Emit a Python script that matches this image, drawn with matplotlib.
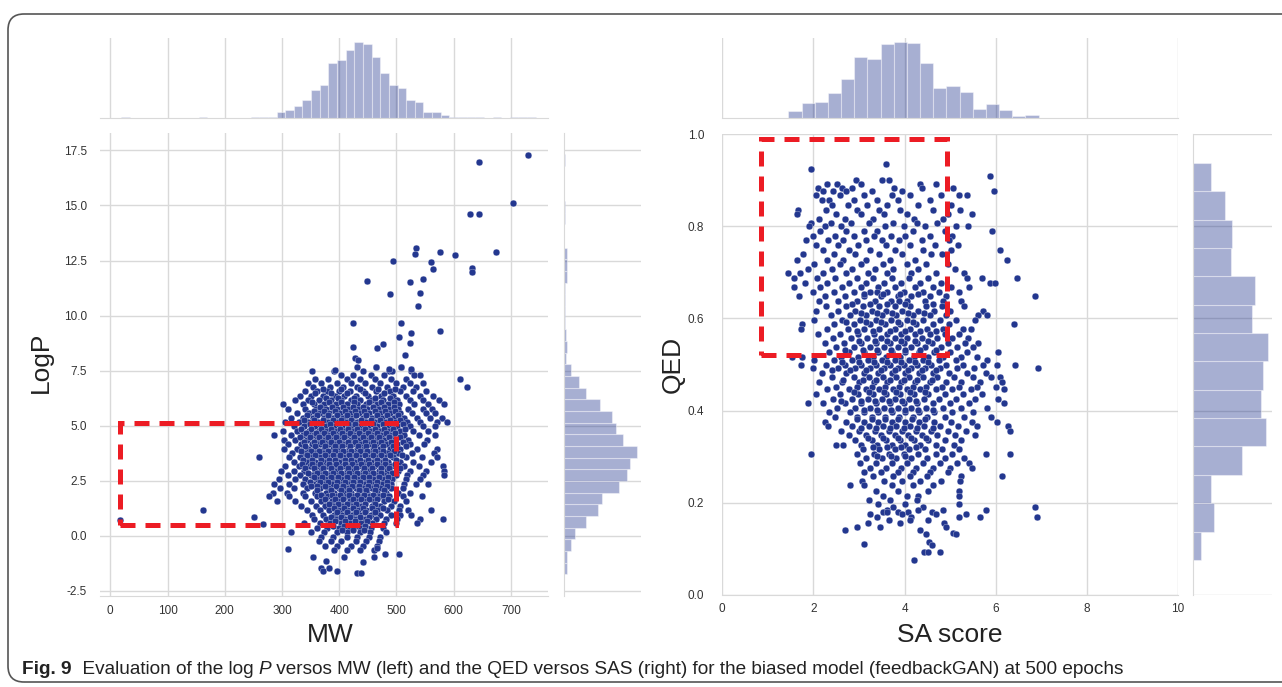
import numpy as np
import matplotlib
matplotlib.use("Agg")
import matplotlib.pyplot as plt
from matplotlib.patches import Rectangle, FancyBboxPatch

plt.rcParams['font.family'] = ['Liberation Sans', 'DejaVu Sans']
plt.rcParams['axes.unicode_minus'] = False

DOT = '#23378f'
GRID = '#d9d9d9'
RED = '#ec1c24'
TXT = '#333333'

# ---------------- left panel: LogP vs MW ----------------
# rows of points: (LogP, [MW, ...])
left_top_rows = [
    (7.68, [432, 465, 508]),
    (7.50, [352, 391, 441, 487, 526, 493]),
    (7.32, [403, 424, 456, 479, 531, 541]),
    (7.12, [358, 381, 413, 437, 462, 491, 516, 612]),
    (6.93, [346, 369, 396, 421, 446, 471, 499, 524, 546]),
    (6.76, [355, 384, 406, 431, 457, 483, 511, 535, 623]),
    (6.56, [341, 361, 379, 399, 419, 441, 464, 489, 506, 529, 551]),
    (6.36, [331, 351, 371, 393, 409, 429, 451, 473, 494, 517, 541, 564]),
    (6.16, [322, 346, 364, 386, 403, 421, 437, 457, 477, 501, 523, 547, 575]),
    (5.96, [301, 336, 356, 374, 394, 413, 431, 447, 467, 485, 504, 531, 556, 584]),
    (5.76, [311, 341, 359, 377, 397, 415, 433, 449, 469, 487, 503, 521, 546, 562]),
    (5.56, [326, 347, 367, 383, 401, 419, 435, 453, 471, 489, 507, 527, 551, 568]),
    (5.36, [316, 336, 354, 373, 389, 406, 423, 441, 457, 475, 495, 514, 536, 559, 579]),
    (5.16, [306, 329, 346, 363, 381, 397, 413, 431, 447, 463, 481, 497, 519, 541, 571, 589]),
]
left_core_rows = [
    (4.96, [321, 339, 357, 375, 391, 405, 421, 437, 451, 467, 485, 501, 523, 547, 567]),
    (4.76, [301, 326, 347, 365, 379, 396, 411, 426, 439, 456, 471, 487, 506, 529, 556]),
    (4.56, [287, 316, 337, 356, 371, 384, 401, 414, 429, 446, 461, 475, 493, 513, 539, 568]),
    (4.36, [303, 323, 344, 361, 376, 389, 404, 421, 434, 451, 466, 479, 497, 521, 554]),
    (4.16, [311, 334, 353, 367, 383, 395, 411, 423, 439, 453, 465, 483, 501, 524, 549]),
    (3.96, [304, 327, 346, 359, 373, 389, 401, 417, 431, 443, 459, 471, 489, 507, 536, 571]),
    (3.76, [317, 339, 354, 371, 385, 397, 413, 425, 441, 453, 469, 483, 503, 527, 566]),
    (3.56, [260, 313, 331, 349, 367, 379, 395, 407, 423, 435, 451, 463, 479, 494, 516, 544, 571]),
    (3.36, [321, 343, 357, 373, 387, 399, 415, 427, 443, 455, 471, 485, 506, 529, 561]),
    (3.16, [306, 329, 349, 363, 379, 391, 407, 419, 433, 449, 461, 477, 491, 513, 539, 581]),
    (2.96, [299, 321, 339, 357, 369, 385, 397, 413, 425, 441, 453, 469, 483, 503, 524, 551, 584]),
    (2.76, [311, 331, 351, 365, 381, 393, 409, 421, 437, 449, 465, 479, 499, 519, 546, 583]),
    (2.56, [294, 323, 341, 361, 375, 391, 403, 419, 431, 447, 459, 477, 493, 516, 541]),
    (2.36, [287, 313, 336, 354, 373, 387, 401, 417, 429, 445, 457, 475, 491, 513, 535, 556]),
    (2.16, [297, 321, 344, 366, 381, 399, 413, 429, 441, 457, 471, 491, 511]),
    (1.96, [284, 309, 336, 357, 377, 391, 409, 421, 437, 449, 467, 481, 503, 524]),
    (1.78, [278, 313, 341, 361, 381, 395, 413, 425, 441, 454, 471, 487, 511, 545]),
    (1.56, [292, 323, 351, 369, 387, 401, 419, 431, 447, 461, 479, 495, 516]),
]
left_low_rows = [
    (1.36, [334, 359, 375, 393, 407, 425, 439, 457, 471, 491, 507]),
    (1.16, [344, 367, 383, 401, 415, 433, 447, 467, 483, 504, 521, 561]),
    (0.96, [353, 371, 391, 405, 423, 437, 456, 471, 491, 507, 526]),
    (0.76, [356, 377, 397, 411, 429, 445, 465, 481, 501, 541, 582]),
    (0.56, [339, 366, 384, 403, 419, 439, 457, 479, 499, 536]),
    (0.36, [361, 379, 399, 417, 437, 455, 477]),
    (0.16, [316, 351, 374, 396, 414, 436, 454, 481]),
    (-0.04, [369, 389, 413, 431, 453, 471]),
    (-0.24, [364, 386, 404, 429, 447, 469]),
    (-0.46, [376, 397, 421, 441, 466]),
    (-0.66, [391, 414, 437, 461]),
]
# the crowded middle of the cloud, between the rows above
left_dense_rows = [
    (6.66, [372, 403, 436, 468, 497]),
    (6.46, [357, 386, 414, 446, 479]),
    (6.26, [377, 398, 426, 462, 488]),
    (6.06, [352, 383, 404, 426, 452, 474, 495]),
    (5.86, [366, 388, 406, 424, 441, 459, 478, 496]),
    (5.66, [356, 374, 392, 410, 427, 444, 462, 480, 498]),
    (5.46, [343, 362, 380, 397, 414, 430, 447, 466, 483, 503]),
    (5.26, [338, 356, 372, 389, 404, 421, 439, 456, 472, 489, 507]),
    (5.06, [349, 366, 384, 399, 416, 427, 443, 459, 476, 492, 512]),
    (4.86, [333, 351, 369, 386, 402, 416, 431, 445, 462, 478, 494, 515]),
    (4.66, [342, 360, 374, 390, 405, 419, 434, 451, 466, 482, 498]),
    (4.46, [331, 349, 365, 380, 394, 408, 426, 441, 456, 470, 487, 506]),
    (4.26, [339, 356, 370, 385, 399, 415, 428, 445, 459, 474, 491, 512]),
    (4.06, [340, 357, 376, 392, 405, 419, 433, 447, 461, 477, 494, 516]),
    (3.86, [333, 351, 365, 380, 393, 407, 421, 436, 449, 463, 477, 496]),
    (3.66, [343, 358, 375, 389, 402, 418, 430, 446, 459, 474, 488, 509]),
    (3.46, [337, 353, 369, 383, 393, 410, 421, 437, 450, 466, 480, 499]),
    (3.26, [335, 352, 367, 382, 395, 411, 423, 438, 452, 466, 480, 498]),
    (3.06, [340, 356, 371, 386, 402, 416, 429, 444, 457, 473, 487, 506]),
    (2.86, [346, 362, 376, 390, 404, 417, 432, 446, 460, 474, 492]),
    (2.66, [356, 370, 386, 398, 413, 426, 441, 453, 470, 486]),
    (2.46, [349, 366, 381, 396, 410, 424, 437, 452, 466, 484]),
    (2.26, [350, 361, 376, 394, 407, 423, 435, 450, 464, 483]),
    (2.06, [362, 385, 403, 418, 434, 447, 463, 478]),
    (1.86, [369, 387, 402, 417, 431, 444, 459, 476]),
    (1.66, [375, 392, 407, 424, 438, 452, 467, 485]),
    (1.46, [383, 398, 414, 430, 446, 463]),
    (1.26, [391, 409, 424, 441, 458, 476]),
    (1.06, [397, 414, 430, 446, 463]),
    (0.86, [385, 404, 419, 436, 452]),
    (0.66, [393, 411, 428, 448]),
    (0.46, [390, 408, 427, 446]),
    (0.26, [405, 425, 444]),
]
# isolated points
mw_out = [730, 645, 703, 628, 645, 534, 532, 576, 603, 674, 494, 560, 564, 633, 633,
          449, 523, 547, 542, 489, 538, 425, 508, 576, 525, 504, 477, 523, 425, 467,
          515, 428, 433, 465, 508, 487, 525, 392,
          17, 162, 252, 267, 311, 355, 368, 371, 382, 396, 377, 409, 432, 438, 441,
          461, 480, 504, 467]
logp_out = [17.30, 16.97, 15.11, 14.61, 14.61, 13.08, 12.80, 12.88, 12.74, 12.88, 12.50,
            12.43, 12.11, 12.18, 11.97, 11.59, 11.53, 11.67, 11.02, 10.96, 10.44, 9.67,
            9.67, 9.29, 9.23, 9.03, 8.71, 8.77, 8.58, 8.52, 8.20, 8.08, 7.96, 7.68, 7.68,
            7.56, 7.56, 7.53,
            0.71, 1.17, 0.86, 0.53, -0.60, -0.95, -1.48, -1.59, -1.47, -1.59, -1.13,
            -0.95, -1.71, -1.71, -1.21, -0.95, -0.83, -0.83, -0.54]

mw_bin0, mw_binw = 18.8, 15.1
mw_counts = [1, 0, 0, 0, 0, 0, 0, 0, 0, 1, 0, 0, 0, 0, 0, 1, 1, 1, 9, 12,
             18, 26, 41, 49, 81, 85, 100, 113, 109, 90, 66, 49, 45, 27, 24, 9, 9, 5, 1, 1,
             2, 1, 0, 1, 0, 1, 1, 1]
logp_bin0, logp_binw = -1.75, 0.53
logp_counts = [5, 5, 11, 16, 32, 51, 57, 82, 94, 98, 109, 88, 78, 72, 53, 33, 23, 10,
               3, 4, 3, 2, 1, 1, 1, 4, 4, 5, 0, 0, 2, 1, 0, 0, 0, 2]

mw_ticks = [0, 100, 200, 300, 400, 500, 600, 700]
logp_ticks = [-2.5, 0.0, 2.5, 5.0, 7.5, 10.0, 12.5, 15.0, 17.5]

# ---------------- right panel: QED vs SA score ----------------
right_top_rows = [
    (0.935, [3.59]),
    (0.924, [1.95]),
    (0.909, [5.88]),
    (0.900, [2.94, 3.50, 3.66]),
    (0.891, [2.30, 2.52, 3.05, 4.35, 4.68]),
    (0.883, [2.10, 2.62, 2.85, 3.77, 4.38, 5.07]),
    (0.876, [2.21, 2.44, 2.72, 3.28, 3.95, 5.97]),
    (0.868, [2.05, 2.58, 3.12, 3.72, 4.12, 4.79, 5.20, 5.36]),
    (0.857, [2.18, 2.35, 2.90, 3.40, 3.85, 4.55]),
    (0.846, [2.40, 2.76, 3.18, 3.62, 4.30, 5.02]),
    (0.836, [1.66, 2.28, 2.95, 3.45, 3.90, 4.62, 5.22]),
    (0.826, [1.63, 2.50, 3.05, 3.55, 4.05, 4.95, 5.47]),
    (0.816, [2.12, 2.70, 3.30, 4.20, 4.85]),
    (0.808, [1.95, 2.38, 2.82, 3.22, 3.75, 4.28, 4.72]),
    (0.800, [1.90, 2.25, 2.60, 3.58, 3.98, 4.45, 5.12, 5.40]),
    (0.790, [2.15, 2.72, 3.10, 3.40, 4.18, 4.88, 5.91]),
    (0.780, [1.98, 2.48, 2.90, 3.32, 3.70, 4.02, 4.55, 5.05]),
    (0.770, [1.83, 2.32, 2.66, 3.15, 3.50, 3.88, 4.38, 4.98]),
    (0.760, [2.05, 2.55, 2.98, 3.60, 4.12, 4.66, 5.18]),
    (0.748, [2.20, 2.78, 3.25, 3.80, 4.40, 5.02, 6.10]),
    (0.739, [1.78, 2.45, 2.92, 3.45, 3.95, 4.58, 4.82]),
    (0.728, [1.63, 2.30, 2.65, 3.15, 3.68, 4.22, 6.24]),
    (0.718, [2.02, 2.58, 3.05, 3.52, 4.05, 4.48, 4.95]),
    (0.708, [1.88, 2.40, 2.85, 3.35, 3.75, 4.30, 5.10]),
    (0.698, [1.45, 1.70, 2.22, 2.72, 3.20, 3.62, 4.15, 4.70, 5.30]),
]
right_mid_rows = [
    (0.688, [1.58, 2.08, 2.48, 2.95, 3.30, 3.72, 4.10, 4.52, 5.36, 5.69, 6.46]),
    (0.678, [1.82, 2.30, 2.78, 3.15, 3.55, 3.92, 4.35, 4.80, 5.88, 5.99]),
    (0.668, [1.57, 2.15, 2.62, 3.05, 3.42, 3.80, 4.22, 4.62, 5.02, 5.41]),
    (0.658, [2.00, 2.45, 2.88, 3.25, 3.40, 3.62, 3.98, 4.40, 4.75, 5.20]),
    (0.648, [1.69, 2.25, 2.70, 3.10, 3.48, 3.85, 4.15, 4.55, 4.92, 6.86]),
    (0.638, [2.12, 2.55, 2.95, 3.35, 3.70, 3.88, 4.05, 4.45, 4.85, 5.25]),
    (0.627, [2.28, 2.72, 3.08, 3.45, 3.78, 4.12, 4.48, 4.82, 5.30]),
    (0.617, [2.05, 2.55, 2.92, 3.28, 3.60, 3.95, 4.30, 4.65, 5.00, 5.72]),
    (0.607, [2.38, 2.80, 3.15, 3.50, 3.82, 4.18, 4.55, 4.92, 5.62, 5.82]),
    (0.597, [2.01, 2.62, 3.02, 3.38, 3.70, 4.05, 4.40, 4.78, 5.12, 5.55]),
    (0.587, [1.75, 2.45, 2.88, 3.25, 3.58, 3.90, 4.25, 4.62, 4.98, 6.40]),
    (0.577, [1.72, 2.30, 2.75, 3.12, 3.45, 3.78, 4.12, 4.50, 4.85, 5.28, 5.45]),
    (0.567, [2.10, 2.58, 2.98, 3.32, 3.62, 3.92, 4.22, 4.55, 4.88, 5.20]),
    (0.557, [2.42, 2.82, 3.18, 3.48, 3.78, 4.05, 4.38, 4.72, 5.05, 5.40]),
    (0.547, [2.25, 2.68, 3.05, 3.38, 3.68, 3.98, 4.28, 4.60, 4.95, 5.32, 5.62]),
    (0.537, [2.50, 2.90, 3.25, 3.55, 3.85, 4.15, 4.45, 4.80, 5.15, 5.50]),
    (0.527, [2.35, 2.78, 3.12, 3.42, 3.72, 4.02, 4.32, 4.65, 5.00, 5.38, 6.06]),
    (0.517, [1.54, 1.76, 2.60, 2.98, 3.30, 3.60, 3.90, 4.20, 4.52, 4.85, 5.25, 5.58]),
    (0.510, [2.02, 2.45, 2.85, 3.20, 3.50, 3.80, 4.10, 4.40, 4.75, 5.12, 5.82]),
    (0.500, [1.72, 2.28, 2.70, 3.05, 3.38, 3.68, 3.98, 4.28, 4.58, 4.92, 5.28, 5.72, 6.02, 6.42]),
    (0.492, [1.98, 2.55, 2.92, 3.25, 3.55, 3.85, 4.15, 4.45, 4.78, 5.15, 5.52, 6.92]),
    (0.482, [2.18, 2.72, 3.10, 3.42, 3.72, 4.02, 4.32, 4.62, 4.98, 5.38, 5.78]),
    (0.472, [2.40, 2.88, 3.22, 3.52, 3.82, 4.10, 4.40, 4.72, 5.08, 5.50, 5.90, 6.09]),
    (0.462, [2.12, 2.62, 3.00, 3.32, 3.62, 3.92, 4.22, 4.55, 4.90, 5.25, 5.65, 6.15]),
    (0.452, [2.50, 2.95, 3.28, 3.58, 3.88, 4.18, 4.48, 4.82, 5.20, 5.60, 6.00]),
]
right_low_rows = [
    (0.446, [2.30, 2.78, 3.15, 3.45, 3.75, 4.05, 4.35, 4.68, 5.05, 5.45, 6.19]),
    (0.436, [2.05, 2.58, 2.98, 3.30, 3.60, 3.90, 4.20, 4.52, 4.88, 5.28, 5.70]),
    (0.426, [2.42, 2.85, 3.20, 3.50, 3.80, 4.10, 4.42, 4.75, 5.12, 5.55, 6.05]),
    (0.416, [1.89, 2.22, 2.70, 3.05, 3.38, 3.68, 3.98, 4.28, 4.62, 5.00, 5.42, 6.18]),
    (0.406, [2.52, 2.92, 3.25, 3.55, 3.85, 4.15, 4.48, 4.85, 5.25, 5.80]),
    (0.396, [2.35, 2.80, 3.12, 3.42, 3.72, 4.02, 4.32, 4.65, 5.05, 5.50]),
    (0.386, [2.48, 2.95, 3.28, 3.58, 3.88, 4.18, 4.50, 4.88, 5.30, 5.90]),
    (0.376, [2.25, 2.72, 3.10, 3.42, 3.72, 4.02, 4.32, 4.65, 5.02, 5.48, 6.02]),
    (0.366, [2.32, 2.85, 3.22, 3.52, 3.82, 4.12, 4.42, 4.78, 5.18, 5.60, 6.28]),
    (0.356, [2.60, 3.00, 3.35, 3.65, 3.95, 4.25, 4.58, 4.95, 5.35, 6.31]),
    (0.346, [2.78, 3.15, 3.48, 3.78, 4.08, 4.38, 4.72, 5.10, 5.55]),
    (0.336, [2.92, 3.28, 3.60, 3.90, 4.20, 4.52, 4.88, 5.25]),
    (0.326, [2.50, 2.65, 3.05, 3.40, 3.72, 4.02, 4.35, 4.70, 5.08]),
    (0.316, [3.08, 3.45, 3.78, 4.10, 4.45, 4.82, 5.20]),
    (0.306, [1.94, 2.95, 3.32, 3.65, 3.98, 4.30, 4.68, 5.05, 5.78, 6.31]),
    (0.296, [3.15, 3.50, 3.82, 4.15, 4.50, 4.88, 5.30]),
    (0.286, [3.02, 3.38, 3.72, 4.05, 4.40, 4.78, 5.15, 5.42]),
    (0.276, [3.25, 3.60, 3.92, 4.25, 4.62, 5.00, 5.48]),
    (0.266, [3.12, 3.48, 3.85, 4.18, 4.55, 4.95]),
    (0.258, [3.30, 3.75, 4.12, 4.50, 5.25, 6.13]),
    (0.248, [3.06, 3.55, 3.95, 4.35, 4.80, 5.22]),
    (0.238, [2.80, 3.12, 3.72, 4.18, 4.62]),
    (0.226, [3.38, 3.85, 4.51, 5.20]),
    (0.214, [3.52, 4.05, 4.30, 5.20]),
    (0.205, [3.23, 3.68, 4.28]),
    (0.197, [3.42, 4.00, 5.20]),
    (0.190, [3.75, 4.40, 6.86]),
    (0.184, [3.62, 4.30, 4.85, 5.79]),
    (0.180, [3.52, 3.61, 3.86, 4.08, 4.60]),
    (0.175, [3.25, 3.95, 4.68, 5.35]),
    (0.168, [3.40, 4.15, 5.20, 5.66, 6.90]),
    (0.162, [3.65, 4.12, 4.52]),
    (0.155, [3.20, 3.90, 4.87]),
    (0.147, [2.95, 3.46, 4.92]),
    (0.140, [2.69, 4.34]),
    (0.135, [5.07]),
    (0.131, [4.47, 5.13]),
    (0.115, [4.54]),
    (0.110, [3.10]),
    (0.108, [4.60]),
    (0.093, [4.43, 4.52, 4.78]),
    (0.075, [4.21]),
]
# the crowded middle of the cloud
right_dense_rows = [
    (0.653, [3.12, 3.52, 3.90, 4.30]),
    (0.632, [2.85, 3.25, 3.62, 4.00, 4.62]),
    (0.612, [3.05, 3.40, 3.72, 4.08, 4.42]),
    (0.592, [2.72, 3.15, 3.48, 3.85, 4.18]),
    (0.572, [2.95, 3.30, 3.68, 4.00, 4.35, 4.70]),
    (0.552, [3.00, 3.35, 3.62, 3.92, 4.22, 4.52]),
    (0.532, [2.70, 3.08, 3.40, 3.70, 4.00, 4.35, 4.68]),
    (0.505, [2.62, 3.00, 3.32, 3.62, 3.92, 4.22, 4.52]),
    (0.487, [2.40, 2.80, 3.15, 3.48, 3.78, 4.08, 4.38, 4.70]),
    (0.467, [2.65, 3.08, 3.38, 3.68, 3.98, 4.28, 4.60]),
    (0.441, [2.90, 3.22, 3.55, 3.82, 4.12, 4.45]),
    (0.421, [2.60, 3.05, 3.35, 3.65, 3.95, 4.25]),
    (0.401, [3.10, 3.40, 3.70, 4.00, 4.30, 4.62]),
    (0.381, [2.95, 3.28, 3.58, 3.86, 4.16, 4.45]),
    (0.361, [3.05, 3.38, 3.68, 3.98, 4.28, 4.62]),
    (0.341, [3.20, 3.52, 3.85, 4.15, 4.48]),
    (0.321, [3.30, 3.62, 3.92, 4.25]),
    (0.301, [3.40, 3.70, 4.02]),
]

sa_bin0, sa_binw = 1.45, 0.289
sa_counts = [11, 22, 24, 37, 58, 90, 87, 109, 113, 111, 81, 45, 48, 39, 14, 20, 12, 3, 5]
qed_bin0, qed_binw = 0.0755, 0.0616
qed_counts = [12, 31, 27, 73, 109, 101, 105, 112, 88, 92, 56, 58, 48, 27]

sa_ticks = [0, 2, 4, 6, 8, 10]
qed_ticks = [0.0, 0.2, 0.4, 0.6, 0.8, 1.0]


def expand(*row_groups):
    xs, ys = [], []
    for rows in row_groups:
        for y, row in rows:
            xs.extend(row)
            ys.extend([y] * len(row))
    return np.array(xs, float), np.array(ys, float)


mw, logp = expand(left_top_rows, left_core_rows, left_low_rows, left_dense_rows)
mw = np.concatenate([mw, mw_out])
logp = np.concatenate([logp, logp_out])
sa, qed = expand(right_top_rows, right_mid_rows, right_low_rows, right_dense_rows)

W, H = 1282, 687
fig = plt.figure(figsize=(W / 100, H / 100), dpi=100)


def px_axes(x0, y0, x1, y1):
    # pixel box measured from the top-left corner
    return fig.add_axes([x0 / W, 1 - y1 / H, (x1 - x0) / W, (y1 - y0) / H])


def style_main(ax, xticks, yticks, xlim, ylim, yfmt, ypad):
    ax.set_xlim(*xlim)
    ax.set_ylim(*ylim)
    ax.set_xticks(xticks)
    ax.set_yticks(yticks)
    ax.set_yticklabels([yfmt.format(v) for v in yticks])
    ax.grid(True, color=GRID, lw=1.0)
    ax.set_axisbelow(True)
    for s in ['top', 'right', 'left']:
        ax.spines[s].set_visible(False)
    ax.spines['bottom'].set_color(GRID)
    ax.tick_params(length=0, labelsize=8.5, labelcolor=TXT)
    ax.tick_params(axis='y', pad=ypad)
    ax.tick_params(axis='x', pad=6)


def top_hist(ax, b0, bw, counts, xticks, xlim):
    edges = b0 + bw * np.arange(len(counts))
    ax.bar(edges, counts, width=bw, align='edge', color=DOT, alpha=0.4,
           edgecolor='white', lw=0.8)
    ax.set_xlim(*xlim)
    ax.set_xticks(xticks)
    ax.set_yticks([])
    ax.tick_params(length=0, labelbottom=False)
    ax.grid(axis='x', color=GRID, lw=1.0)
    ax.set_axisbelow(True)
    for s in ['top', 'right', 'left']:
        ax.spines[s].set_visible(False)
    ax.spines['bottom'].set_color(GRID)


def side_hist(ax, b0, bw, counts, yticks, ylim):
    edges = b0 + bw * np.arange(len(counts))
    ax.barh(edges, counts, height=bw, align='edge', color=DOT, alpha=0.4,
            edgecolor='white', lw=0.8)
    ax.set_ylim(*ylim)
    ax.set_yticks(yticks)
    ax.set_xticks([])
    ax.tick_params(length=0, labelleft=False)
    ax.grid(axis='y', color=GRID, lw=1.0)
    ax.set_axisbelow(True)
    for s in ['top', 'right', 'bottom']:
        ax.spines[s].set_visible(False)
    ax.spines['left'].set_color(GRID)


# ---- left joint plot ----
mw_lim = (-18.5, 765)
logp_lim = (-2.75, 18.28)
ax1 = px_axes(99.7, 133.3, 548, 596.2)
ax1.scatter(mw, logp, s=24, color=DOT, edgecolor='white', linewidth=0.2, zorder=2)
ax1.add_patch(Rectangle((17, 0.5), 499 - 17, 5.1 - 0.5, fill=False, edgecolor=RED,
                        lw=3.6, linestyle=(0, (3.0, 2.0)), joinstyle='miter', zorder=3))
style_main(ax1, mw_ticks, logp_ticks, mw_lim, logp_lim, '{:.1f}', 9)
top_hist(px_axes(99.7, 37.7, 548, 118), mw_bin0, mw_binw, mw_counts, mw_ticks, mw_lim)
side_hist(px_axes(564, 133.3, 641, 596.2), logp_bin0, logp_binw, logp_counts,
          logp_ticks, logp_lim)

# ---- right joint plot ----
sa_lim = (0, 10)
qed_lim = (0, 1.0)
ax2 = px_axes(722.3, 134.3, 1177.9, 594.7)
ax2.scatter(sa, qed, s=24, color=DOT, edgecolor='white', linewidth=0.2, zorder=2)
ax2.add_patch(Rectangle((0.85, 0.52), 4.93 - 0.85, 0.99 - 0.52, fill=False, edgecolor=RED,
                        lw=3.6, linestyle=(0, (3.0, 2.0)), joinstyle='miter', zorder=3))
style_main(ax2, sa_ticks, qed_ticks, sa_lim, qed_lim, '{:.1f}', 13)
top_hist(px_axes(722.3, 37.7, 1177.9, 118), sa_bin0, sa_binw, sa_counts, sa_ticks, sa_lim)
side_hist(px_axes(1193.3, 134.3, 1271.7, 594.7), qed_bin0, qed_binw, qed_counts,
          qed_ticks, qed_lim)

# axis labels
lab = dict(fontsize=19, color='#222222', ha='center', va='center')
fig.text(41 / W, 1 - 362 / H, 'LogP', rotation=90, **lab)
fig.text(330 / W, 1 - 635 / H, 'MW', **lab)
fig.text(673 / W, 1 - 364 / H, 'QED', rotation=90, **lab)
fig.text(950 / W, 1 - 635 / H, 'SA score', **lab)

# frame around the figure
fig.add_artist(FancyBboxPatch((0.08, 0.05), 14.0, 6.68,
                              boxstyle='round,pad=0,rounding_size=0.16',
                              transform=fig.dpi_scale_trans, fill=False,
                              edgecolor='#555555', lw=1.2))

# caption, sized so that it runs from x=22 to x=1135 like the original
cap_y = 1 - 674 / H
pieces = [('Fig. 9', dict(fontweight='bold')),
          ('  Evaluation of the log ', {}),
          ('P', dict(style='italic')),
          (' versos MW (left) and the QED versos SAS (right) for the biased model '
           '(feedbackGAN) at 500 epochs', {})]
renderer = fig.canvas.get_renderer()
texts = [fig.text(0, cap_y, txt, fontsize=11.5, color='#222222', va='baseline', **kw)
         for txt, kw in pieces]
total = sum(t.get_window_extent(renderer=renderer).width for t in texts)
fs = 11.5 * (1135 - 22) / total
x = 22
for t in texts:
    t.set_fontsize(fs)
    t.set_x(x / W)
    x += t.get_window_extent(renderer=renderer).width

fig.savefig('out.png', dpi=100)
